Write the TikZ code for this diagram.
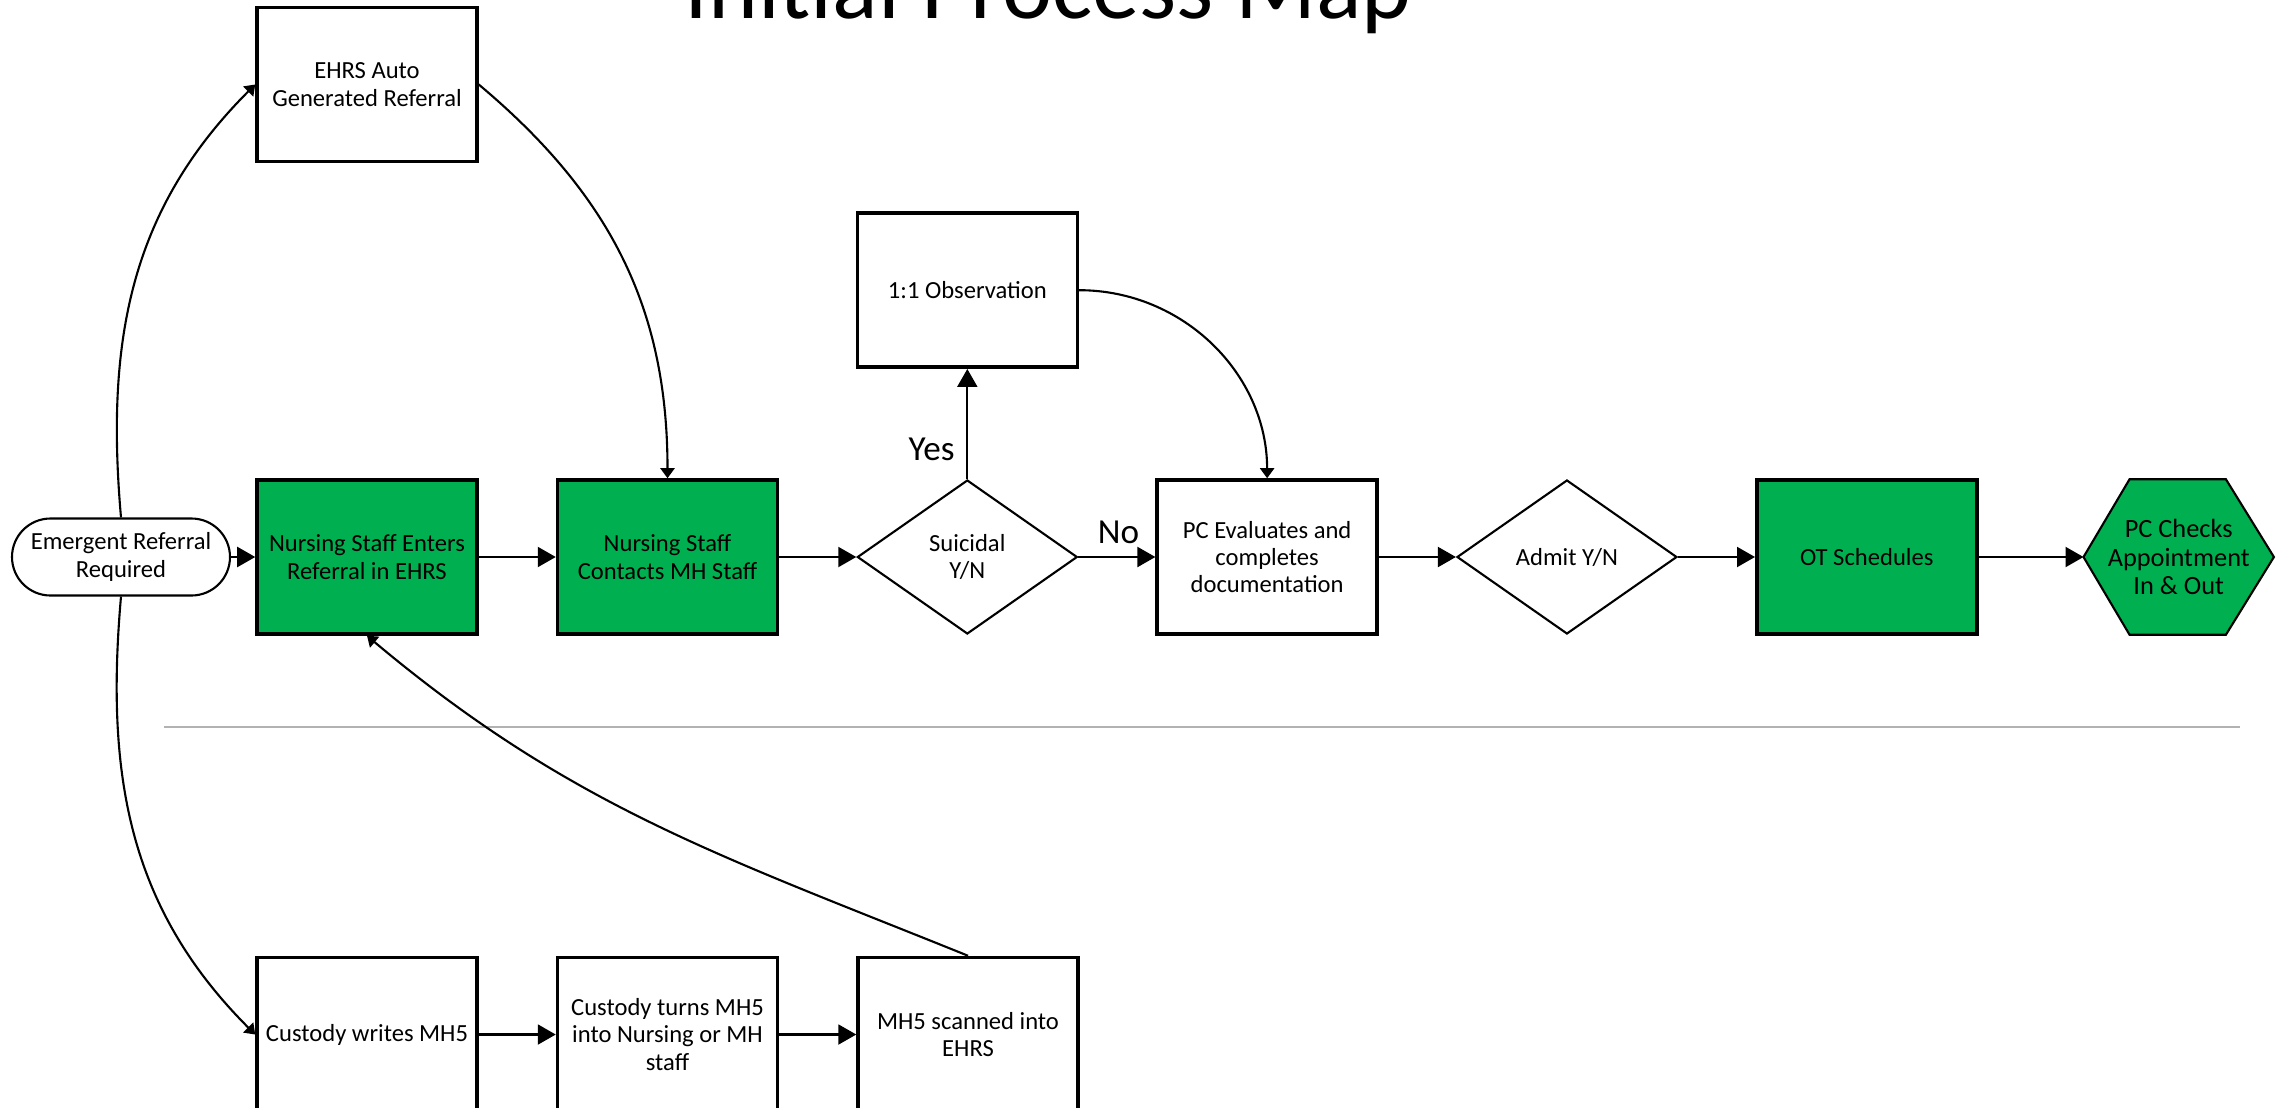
\documentclass[tikz,border=0pt]{standalone}
\usepackage{fontspec}
\setmainfont{Carlito}
\usetikzlibrary{positioning,shapes.geometric,arrows.meta,backgrounds}
\definecolor{procgreen}{RGB}{0,176,80}

\begin{document}
\begin{tikzpicture}
    [font=\fontsize{7}{7.8}\selectfont,
     box/.style={draw,line width=1pt,minimum width=2.2cm,minimum height=1.54cm,inner sep=1pt,align=center},
     greenbox/.style={box,fill=procgreen},
     decide/.style={diamond,draw,line width=0.6pt,minimum width=2.2cm,minimum height=1.54cm,inner sep=0pt,align=center},
     term/.style={draw,rounded corners=0.385cm,line width=0.6pt,minimum width=2.18cm,minimum height=0.77cm,inner sep=1pt,align=center},
     flow/.style={-{Triangle[length=0.18cm,width=0.2cm]},line width=0.6pt},
     curvelink/.style={-{Triangle[length=0.1cm,width=0.14cm]},line width=0.6pt},
     answer/.style={font=\fontsize{10}{12}\selectfont}]
    \useasboundingbox (0,0) rectangle (22.79,-11.08);
    \node (title) [font=\fontsize{27}{30}\selectfont,anchor=base] at (10.48,-0.18) {Initial Process Map};

    \node (emerg) [term] at (1.21,-5.57) {Emergent Referral\\Required};
    \node (enters) [greenbox] at (3.67,-5.57) {Nursing Staff Enters\\Referral in EHRS};
    \begin{scope}[node distance=0.77cm]
      \node (contacts) [greenbox,right=of enters] {Nursing Staff\\Contacts MH Staff};
      \node (suicidal) [decide,right=of contacts] {Suicidal\\Y/N};
      \node (evaluate) [box,right=of suicidal] {PC Evaluates and\\completes\\documentation};
      \node (admit) [decide,right=of evaluate] {Admit Y/N};
      \node (otsched) [greenbox,right=of admit] {OT Schedules};
      \node (writes) [box,below=3.2cm of enters] {Custody writes MH5};
      \node (turns) [box,right=of writes] {Custody turns MH5\\into Nursing or MH\\staff};
      \node (scanned) [box,right=of turns] {MH5 scanned into\\EHRS};
    \end{scope}
    \node (checks) [right=1.05cm of otsched,minimum width=1.89cm,minimum height=1.54cm,
      inner sep=0pt,align=center,font=\fontsize{7.5}{8.1}\selectfont] {PC Checks\\Appointment\\In \& Out};
    \node (auto) [box,above=3.15cm of enters] {EHRS Auto\\Generated Referral};
    \node (observe) [box,above=1.1cm of suicidal] {1:1 Observation};

    \begin{scope}[on background layer]
      \filldraw[fill=procgreen,line width=0.6pt] (checks.west) -- ([xshift=0.46cm]checks.north west)
        -- ([xshift=-0.48cm]checks.north east) -- (checks.east)
        -- ([xshift=-0.48cm]checks.south east) -- ([xshift=0.46cm]checks.south west) -- cycle;
    \end{scope}

    \draw[gray!60,line width=0.5pt] (1.64,-7.27) -- (22.40,-7.27);

    \foreach \n / \m in {emerg/enters,enters/contacts,contacts/suicidal,evaluate/admit,
      admit/otsched,otsched/checks,writes/turns,turns/scanned} {
      \draw[flow] (\n) -- (\m);
    }
    \draw[flow] (suicidal) -- node[answer,above,pos=0.52]{No} (evaluate);
    \draw[flow] (suicidal) -- node[answer,left,pos=0.27]{Yes} (observe);

    \draw[curvelink] (emerg.north) to[out=95,in=225] (auto.west);
    \draw[curvelink] (emerg.south) to[out=265,in=135] (writes.west);
    \draw[curvelink] (auto.east) to[out=-40,in=90] (contacts.north);
    \draw[curvelink] (observe.east) to[out=0,in=90] (evaluate.north);
    \draw[curvelink] (scanned.north) to[out=158,in=-40] (enters.south);
  \end{tikzpicture}
\end{document}
